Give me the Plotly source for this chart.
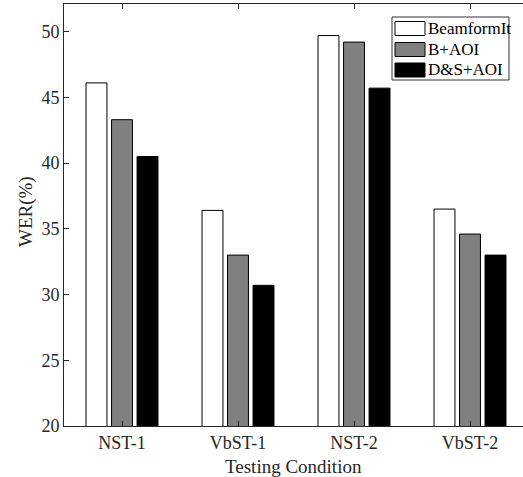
import plotly.graph_objects as go

categories = ["NST-1", "VbST-1", "NST-2", "VbST-2"]
series_names = ["BeamformIt", "B+AOI", "D&S+AOI"]
beamformit = [46.1, 36.4, 49.7, 36.5]
b_aoi = [43.3, 33.0, 49.2, 34.6]
ds_aoi = [40.5, 30.7, 45.7, 33.0]
y_ticks = [20, 25, 30, 35, 40, 45, 50]

colors = ["#ffffff", "#808080", "#000000"]
series = [beamformit, b_aoi, ds_aoi]

# the original figure is cropped on the right; the axes box ends just past the window
W, H = 528, 477
L, T, B = 64, 4, 51
plot_w = W - L
plot_h = H - T - B

FONT = "Liberation Serif, Times New Roman, serif"
TXT = "#262626"

fig = go.Figure()
xpos = list(range(1, len(categories) + 1))
for name, vals, col in zip(series_names, series, colors):
    fig.add_trace(go.Bar(
        x=xpos, y=vals, name=name,
        marker=dict(color=col, line=dict(color="#000000", width=1)),
        showlegend=False,
    ))

def px(x):
    return (x - L) / plot_w

def py(y):
    return (T + plot_h - y) / plot_h

shapes = []
annotations = []
# legend box
shapes.append(dict(type="rect", xref="paper", yref="paper",
                   x0=px(392), x1=px(509), y0=py(80), y1=py(17),
                   line=dict(color="#333333", width=1), fillcolor="white"))
row_centers = [28.5, 49.5, 70.0]
for name, col, rc in zip(series_names, colors, row_centers):
    shapes.append(dict(type="rect", xref="paper", yref="paper",
                       x0=px(395), x1=px(425), y0=py(rc + 7), y1=py(rc - 7),
                       line=dict(color="#000000", width=1), fillcolor=col))
    annotations.append(dict(xref="paper", yref="paper", x=px(426), y=py(rc),
                            text=name, showarrow=False, xanchor="left", yanchor="middle",
                            font=dict(family=FONT, size=17, color="#000000")))

# axis titles
annotations.append(dict(xref="paper", yref="paper", x=px(293), y=py(466),
                        text="Testing Condition", showarrow=False,
                        xanchor="center", yanchor="middle",
                        font=dict(family=FONT, size=19, color=TXT)))
annotations.append(dict(xref="paper", yref="paper", x=px(26), y=py(212),
                        text="WER(%)", showarrow=False, textangle=-90,
                        xanchor="center", yanchor="middle",
                        font=dict(family=FONT, size=19, color=TXT)))

fig.update_layout(
    width=W, height=H,
    margin=dict(l=L, r=0, t=T, b=B, pad=0, autoexpand=False),
    paper_bgcolor="white", plot_bgcolor="white",
    barmode="group", bargap=0.34, bargroupgap=0.18,
    font=dict(family=FONT, size=18, color=TXT),
    shapes=shapes, annotations=annotations,
    xaxis=dict(
        range=[0.5, 4.5],
        tickmode="array", tickvals=xpos, ticktext=categories,
        ticks="inside", ticklen=5, tickcolor=TXT,
        showline=True, linecolor=TXT, linewidth=1, mirror="ticks",
        showgrid=False, zeroline=False, automargin=False,
        tickfont=dict(size=18, family=FONT, color=TXT),
    ),
    yaxis=dict(
        range=[20, 52.1],
        tickmode="array", tickvals=y_ticks,
        ticks="inside", ticklen=5, tickcolor=TXT,
        showline=True, linecolor=TXT, linewidth=1, mirror="ticks",
        showgrid=False, zeroline=False, automargin=False,
        tickfont=dict(size=18, family=FONT, color=TXT),
    ),
)

fig.write_html(
    "out.html",
    config={"displayModeBar": False},
    post_script="document.body.style.margin='0';document.body.style.overflow='hidden';",
)
